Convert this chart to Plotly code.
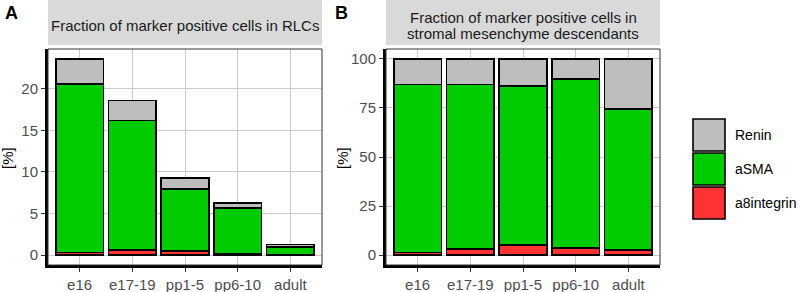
import plotly.graph_objects as go

# ---- data ----
categories = ["e16", "e17-19", "pp1-5", "pp6-10", "adult"]
series_names = ["a8integrin", "aSMA", "Renin"]          # bottom -> top
series_colors = ["#FF3333", "#00CC00", "#BEBEBE"]

rlc_a8integrin = [0.3, 0.6, 0.5, 0.2, 0.05]
rlc_asma = [20.3, 15.6, 7.45, 5.45, 0.95]
rlc_renin = [3.0, 2.4, 1.3, 0.65, 0.3]

strom_a8integrin = [1.4, 3.0, 5.1, 3.7, 2.5]
strom_asma = [85.6, 84.0, 81.1, 86.0, 71.8]
strom_renin = [13.0, 13.0, 13.8, 10.3, 25.7]

yticks_a = [0, 5, 10, 15, 20]
yticks_b = [0, 25, 50, 75, 100]

title_a = ["Fraction of marker positive cells in RLCs"]
title_b = ["Fraction of marker positive cells in", "stromal mesenchyme descendants"]

# ---- layout geometry (pixels) ----
W, H = 800, 292
FONT = "Liberation Sans, Arial, sans-serif"
FS = 15

def px_x(x):
    return x / W

def px_y(y):
    return 1 - y / H

panel_top, panel_bot = 49, 265
pa = (48, 322)
pb = (386, 660)

fig = go.Figure()

def add_panel(vals, xa, ya):
    for name, color, v in zip(series_names, series_colors, vals):
        fig.add_trace(go.Bar(
            x=categories, y=v, name=name, xaxis=xa, yaxis=ya,
            width=0.9, marker=dict(color=color, line=dict(color="black", width=1.6)),
            showlegend=False, hoverinfo="x+y+name",
        ))

add_panel([rlc_a8integrin, rlc_asma, rlc_renin], "x", "y")
add_panel([strom_a8integrin, strom_asma, strom_renin], "x2", "y2")

ydom = [px_y(panel_bot), px_y(panel_top)]
axis_common = dict(
    showgrid=True, gridcolor="#CBCBCB", gridwidth=1.3,
    showline=True, linecolor="black", linewidth=3,
    ticks="outside", ticklen=4, tickwidth=1.4, tickcolor="#333333",
    tickfont=dict(family=FONT, size=FS, color="#4D4D4D"),
    zeroline=False, fixedrange=True,
)

fig.update_layout(
    width=W, height=H, margin=dict(l=0, r=0, t=0, b=0),
    paper_bgcolor="white", plot_bgcolor="white",
    barmode="stack", bargap=0.1,
    font=dict(family=FONT),
    xaxis=dict(domain=[px_x(pa[0]), px_x(pa[1])], anchor="y",
               range=[-0.6, 4.6], **axis_common),
    yaxis=dict(domain=ydom, anchor="x", range=[-1.18, 24.78],
               tickvals=yticks_a, **axis_common),
    xaxis2=dict(domain=[px_x(pb[0]), px_x(pb[1])], anchor="y2",
                range=[-0.6, 4.6], **axis_common),
    yaxis2=dict(domain=ydom, anchor="x2", range=[-5, 105],
                tickvals=yticks_b, **axis_common),
)

shapes = []
annotations = []

for (x0, x1), ttl, letter, lx, ytx in [(pa, title_a, "A", 3, 7), (pb, title_b, "B", 333, 342)]:
    # strip
    shapes.append(dict(type="rect", xref="paper", yref="paper",
                       x0=px_x(x0), x1=px_x(x1), y0=px_y(45), y1=1,
                       fillcolor="#D9D9D9", line=dict(width=0), layer="below"))
    n = len(ttl)
    for i, line in enumerate(ttl):
        yc = 25 + (i - (n - 1) / 2) * 16
        annotations.append(dict(xref="paper", yref="paper", x=px_x((x0 + x1) / 2), y=px_y(yc),
                                text=line, showarrow=False, xanchor="center", yanchor="middle",
                                font=dict(family=FONT, size=FS, color="#1A1A1A")))
    # panel border (thin)
    shapes.append(dict(type="rect", xref="paper", yref="paper",
                       x0=px_x(x0), x1=px_x(x1), y0=px_y(panel_bot), y1=px_y(panel_top),
                       line=dict(color="#333333", width=1), layer="above"))
    # panel letter
    annotations.append(dict(xref="paper", yref="paper", x=px_x(lx), y=px_y(1),
                            text="<b>" + letter + "</b>", showarrow=False,
                            xanchor="left", yanchor="top",
                            font=dict(family=FONT, size=18, color="black")))
    # y title
    annotations.append(dict(xref="paper", yref="paper", x=px_x(ytx), y=px_y(158),
                            text="[%]", showarrow=False, textangle=-90,
                            xanchor="center", yanchor="middle",
                            font=dict(family=FONT, size=FS, color="black")))

# legend (top -> bottom: Renin, aSMA, a8integrin)
key_x0, key_x1 = 693, 725
key_top = 119
key_h = 34
for i, (name, color) in enumerate(zip(series_names[::-1], series_colors[::-1])):
    t = key_top + i * key_h
    shapes.append(dict(type="rect", xref="paper", yref="paper",
                       x0=px_x(key_x0), x1=px_x(key_x1), y0=px_y(t + key_h - 2), y1=px_y(t),
                       fillcolor=color, line=dict(color="black", width=1.6)))
    annotations.append(dict(xref="paper", yref="paper", x=px_x(733), y=px_y(t + (key_h - 2) / 2),
                            text=name, showarrow=False, xanchor="left", yanchor="middle",
                            font=dict(family=FONT, size=14, color="black")))

fig.update_layout(shapes=shapes, annotations=annotations)

fig.write_html("out.html", config={"displayModeBar": False},
               post_script="document.body.style.margin='0';document.body.style.overflow='hidden';")
